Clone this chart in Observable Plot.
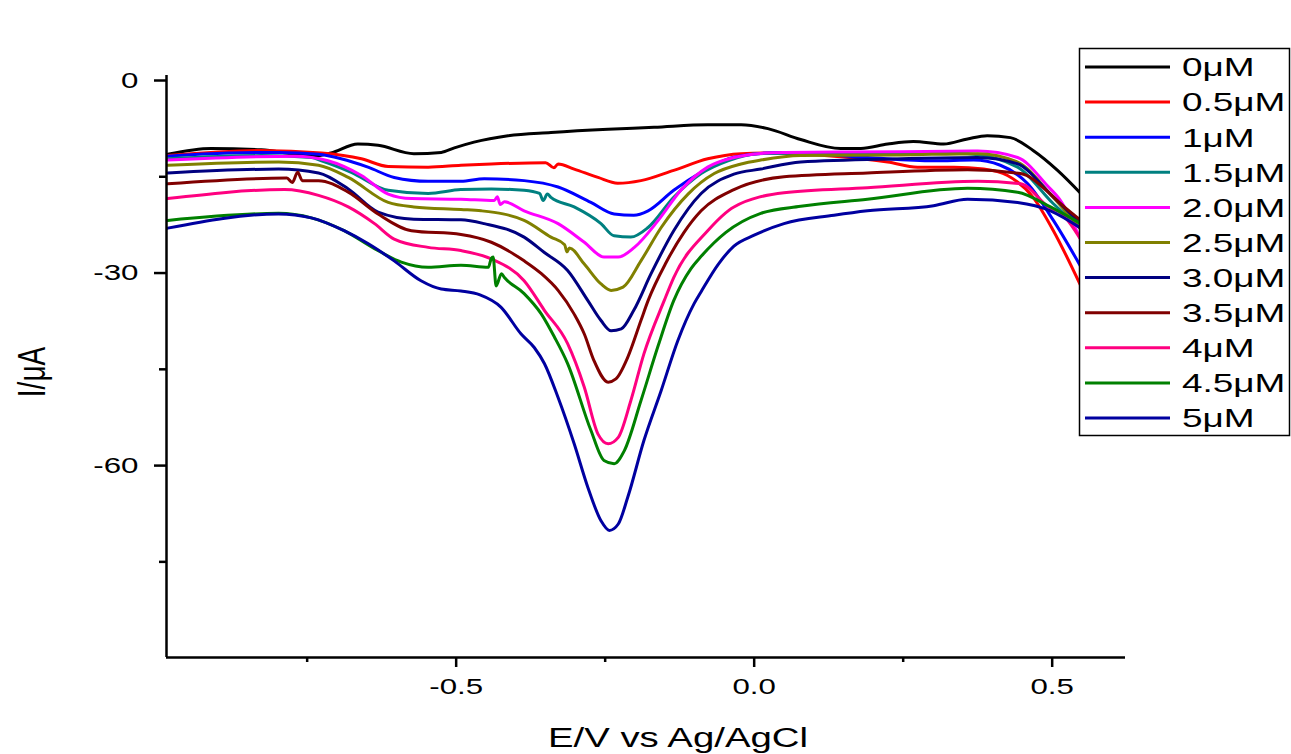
<!DOCTYPE html>
<html>
<head>
<meta charset="utf-8">
<script src="https://cdn.jsdelivr.net/npm/d3@7"></script>
<script src="https://cdn.jsdelivr.net/npm/@observablehq/plot@0.6"></script>
<style>
  body { margin: 0; background: #fff; }
  #chart { position: relative; width: 1291px; height: 754px; }
</style>
</head>
<body>
<div id="chart"></div>
<script>
// Differential pulse voltammograms: current vs potential for increasing concentration.
const labels = ["0μM", "0.5μM", "1μM", "1.5μM", "2.0μM", "2.5μM", "3.0μM", "3.5μM", "4μM", "4.5μM", "5μM"];
const colors = ["#000000", "#ff0000", "#0000ff", "#008080", "#ff00ff", "#808000", "#000080", "#800000", "#ff0080", "#008000", "#0000a0"];

// [E (V vs Ag/AgCl), I (μA)]
const c0 = [[-0.984,-11.5],[-0.911,-10.6],[-0.827,-10.8],[-0.771,-11.5],[-0.738,-11.8],[-0.710,-11.3],[-0.665,-9.9],[-0.631,-10.1],[-0.571,-11.4],[-0.525,-11.2],[-0.503,-10.5],[-0.470,-9.6],[-0.413,-8.6],[-0.341,-8.1],[-0.245,-7.6],[-0.168,-7.3],[-0.078,-6.9],[-0.022,-6.9],[0.023,-7.5],[0.078,-9.2],[0.145,-10.6],[0.179,-10.6],[0.224,-9.9],[0.267,-9.5],[0.318,-9.9],[0.358,-9.1],[0.391,-8.6],[0.430,-8.9],[0.468,-10.9],[0.509,-14.0],[0.548,-17.6]];
const c05 = [[-0.984,-11.7],[-0.827,-10.9],[-0.726,-11.3],[-0.659,-12.2],[-0.614,-13.4],[-0.547,-13.5],[-0.492,-13.2],[-0.441,-13.0],[-0.350,-12.8],[-0.336,-13.6],[-0.329,-13.0],[-0.302,-13.8],[-0.262,-15.1],[-0.229,-16.0],[-0.190,-15.6],[-0.135,-14.0],[-0.078,-12.2],[-0.022,-11.4],[0.023,-11.3],[0.134,-11.8],[0.224,-12.7],[0.274,-13.5],[0.335,-13.5],[0.385,-13.8],[0.425,-14.8],[0.468,-18.2],[0.502,-23.4],[0.548,-32.0]];
const c1 = [[-0.984,-11.8],[-0.882,-11.3],[-0.798,-11.2],[-0.731,-11.5],[-0.693,-12.2],[-0.648,-13.5],[-0.604,-15.1],[-0.547,-15.7],[-0.492,-15.7],[-0.453,-15.3],[-0.386,-15.6],[-0.329,-16.6],[-0.274,-19.0],[-0.235,-20.8],[-0.202,-21.0],[-0.178,-20.3],[-0.135,-17.1],[-0.089,-14.3],[-0.044,-12.2],[0.006,-11.4],[0.050,-11.2],[0.190,-12.0],[0.301,-12.5],[0.368,-12.4],[0.413,-13.2],[0.459,-16.1],[0.502,-21.8],[0.548,-29.0]];
const c15 = [[-0.984,-12.2],[-0.827,-11.7],[-0.743,-12.0],[-0.726,-12.5],[-0.676,-14.3],[-0.614,-17.1],[-0.547,-17.6],[-0.492,-17.0],[-0.441,-16.9],[-0.386,-17.1],[-0.360,-17.6],[-0.354,-18.7],[-0.347,-17.7],[-0.341,-18.2],[-0.302,-19.7],[-0.257,-22.3],[-0.235,-24.2],[-0.207,-24.4],[-0.178,-22.9],[-0.135,-18.2],[-0.089,-14.5],[-0.044,-12.5],[0.006,-11.4],[0.078,-11.3],[0.246,-11.2],[0.358,-11.4],[0.442,-13.5],[0.502,-19.2],[0.548,-23.0]];
const c20 = [[-0.984,-12.4],[-0.771,-11.8],[-0.715,-12.5],[-0.659,-14.8],[-0.614,-17.7],[-0.575,-18.4],[-0.492,-18.5],[-0.436,-18.7],[-0.431,-18.1],[-0.426,-19.3],[-0.419,-18.9],[-0.386,-20.3],[-0.329,-22.3],[-0.285,-25.2],[-0.252,-27.5],[-0.228,-27.5],[-0.201,-26.0],[-0.161,-21.8],[-0.123,-17.1],[-0.078,-13.5],[-0.034,-12.0],[0.006,-11.4],[0.050,-11.2],[0.246,-11.1],[0.375,-11.0],[0.442,-12.0],[0.492,-16.4],[0.514,-18.7],[0.548,-24.8]];
const c25 = [[-0.984,-13.2],[-0.798,-12.7],[-0.731,-13.2],[-0.681,-15.1],[-0.614,-19.0],[-0.571,-19.7],[-0.492,-20.1],[-0.458,-20.3],[-0.386,-21.8],[-0.341,-24.4],[-0.318,-25.6],[-0.314,-26.7],[-0.310,-26.1],[-0.285,-28.6],[-0.257,-31.7],[-0.240,-32.7],[-0.220,-32.2],[-0.190,-28.1],[-0.156,-22.9],[-0.111,-17.7],[-0.067,-14.5],[-0.022,-13.0],[0.011,-12.4],[0.078,-11.7],[0.246,-11.6],[0.375,-11.4],[0.442,-12.7],[0.497,-17.7],[0.548,-23.2]];
const c30 = [[-0.984,-14.4],[-0.798,-13.8],[-0.731,-14.4],[-0.681,-16.9],[-0.631,-20.5],[-0.571,-21.6],[-0.492,-21.7],[-0.453,-22.3],[-0.386,-24.4],[-0.352,-26.8],[-0.313,-29.6],[-0.279,-34.3],[-0.257,-37.4],[-0.240,-39.0],[-0.223,-38.7],[-0.202,-35.8],[-0.173,-30.1],[-0.135,-23.4],[-0.089,-17.6],[-0.034,-14.6],[0.011,-13.8],[0.078,-12.7],[0.246,-12.2],[0.375,-12.0],[0.442,-13.0],[0.497,-17.7],[0.548,-22.3]];
const c35 = [[-0.984,-16.1],[-0.784,-15.2],[-0.775,-15.9],[-0.766,-14.3],[-0.758,-15.6],[-0.731,-15.6],[-0.681,-17.4],[-0.631,-20.8],[-0.575,-23.4],[-0.492,-24.0],[-0.441,-25.2],[-0.386,-28.1],[-0.357,-30.1],[-0.329,-32.7],[-0.302,-36.4],[-0.285,-39.5],[-0.269,-43.6],[-0.245,-47.0],[-0.232,-46.5],[-0.212,-43.1],[-0.190,-37.4],[-0.178,-34.3],[-0.148,-28.4],[-0.118,-23.7],[-0.089,-20.3],[-0.034,-17.0],[0.050,-15.0],[0.190,-14.4],[0.358,-13.9],[0.447,-14.5],[0.497,-17.7],[0.514,-19.2],[0.548,-21.8]];
const c4 = [[-0.984,-18.4],[-0.788,-17.0],[-0.731,-17.9],[-0.681,-19.7],[-0.637,-22.3],[-0.604,-24.7],[-0.547,-26.0],[-0.492,-26.5],[-0.441,-27.8],[-0.386,-31.2],[-0.352,-35.8],[-0.313,-41.0],[-0.285,-47.8],[-0.262,-55.1],[-0.245,-56.6],[-0.228,-55.6],[-0.207,-49.9],[-0.185,-42.6],[-0.151,-34.3],[-0.135,-30.7],[-0.078,-23.4],[-0.034,-19.7],[0.050,-17.5],[0.190,-16.7],[0.375,-15.7],[0.447,-16.1],[0.497,-19.9],[0.514,-20.6],[0.548,-24.8]];
const c45 = [[-0.984,-21.8],[-0.798,-20.7],[-0.743,-21.4],[-0.688,-23.4],[-0.637,-26.2],[-0.592,-28.3],[-0.547,-29.1],[-0.492,-28.8],[-0.446,-29.1],[-0.441,-27.7],[-0.438,-27.5],[-0.433,-32.0],[-0.424,-30.1],[-0.419,-30.7],[-0.386,-33.2],[-0.357,-36.4],[-0.335,-40.0],[-0.313,-44.1],[-0.274,-54.5],[-0.252,-59.2],[-0.235,-59.7],[-0.218,-57.7],[-0.190,-49.9],[-0.161,-41.3],[-0.135,-34.3],[-0.106,-29.3],[-0.089,-27.4],[-0.048,-23.7],[0.011,-20.7],[0.078,-19.6],[0.190,-18.5],[0.358,-16.8],[0.442,-17.4],[0.497,-19.7],[0.548,-22.3]];
const c5 = [[-0.984,-23.0],[-0.798,-20.8],[-0.743,-21.4],[-0.688,-23.4],[-0.648,-25.4],[-0.604,-28.1],[-0.559,-31.2],[-0.525,-32.5],[-0.492,-32.8],[-0.460,-33.4],[-0.425,-35.3],[-0.391,-39.5],[-0.369,-41.6],[-0.352,-44.1],[-0.329,-49.4],[-0.302,-56.6],[-0.279,-63.4],[-0.257,-68.6],[-0.243,-70.1],[-0.228,-69.1],[-0.212,-64.9],[-0.185,-56.1],[-0.156,-48.3],[-0.128,-40.5],[-0.101,-34.8],[-0.089,-32.9],[-0.060,-28.6],[-0.034,-25.8],[0.000,-24.1],[0.050,-22.3],[0.134,-21.0],[0.190,-20.3],[0.301,-19.5],[0.358,-18.5],[0.442,-19.0],[0.497,-20.3],[0.548,-23.0]];

const curves = [c0, c05, c1, c15, c20, c25, c30, c35, c4, c45, c5];

// Axis settings
const xDomain = [-0.986, 0.623];
const yDomain = [-89.9, 0.78];
const xMajor = [-0.5, 0.0, 0.5];
const xMinor = [-0.75, -0.25, 0.25];
const yMajor = [0, -30, -60];
const yMinor = [-15, -45, -75];

const rows = curves.flatMap((pts, k) => pts.map(([E, I]) => ({E, I, series: labels[k]})));

const FONT = "'Liberation Sans', Arial, sans-serif";
const STRETCH = 1.42; // wide glyphs

const chart = Plot.plot({
  width: 1291,
  height: 754,
  marginLeft: 166,
  marginRight: 166,
  marginTop: 75,
  marginBottom: 97,
  style: {fontFamily: FONT, fontSize: "22px", color: "#000", background: "#fff", overflow: "visible"},
  x: {domain: xDomain, label: null},
  y: {domain: yDomain, label: null},
  color: {domain: labels, range: colors},
  marks: [
    Plot.axisX({ticks: xMajor, tickSize: 10, tickPadding: 11, strokeWidth: 2.5, tickFormat: d => d.toFixed(1), fontSize: 22, label: null}),
    Plot.axisX({ticks: xMinor, tickSize: 5, strokeWidth: 2.5, tickFormat: () => "", label: null}),
    Plot.axisY({ticks: yMajor, tickSize: 12, tickPadding: 16, strokeWidth: 2.5, tickFormat: d => String(d), fontSize: 22, label: null}),
    Plot.axisY({ticks: yMinor, tickSize: 7, strokeWidth: 2.5, tickFormat: () => "", label: null}),
    Plot.line(rows, {x: "E", y: "I", z: "series", stroke: "series", strokeWidth: 3, curve: "monotone-x"}),
    Plot.ruleY([yDomain[0]], {stroke: "#000", strokeWidth: 2.5}),
    Plot.ruleX([xDomain[0]], {stroke: "#000", strokeWidth: 2.5})
  ]
});

document.getElementById("chart").appendChild(chart);

const svg = d3.select(chart);

// Axis titles
svg.append("text")
  .attr("class", "wide")
  .attr("x", 678).attr("y", 747)
  .attr("text-anchor", "middle")
  .attr("font-family", FONT).attr("font-size", 27).attr("fill", "#000")
  .text("E/V vs Ag/AgCl");

svg.append("text")
  .attr("transform", "translate(45,372) rotate(-90) scale(1,1.4)")
  .attr("text-anchor", "middle")
  .attr("font-family", FONT).attr("font-size", 28).attr("fill", "#000")
  .text("I/μA");

// Legend box with line swatches
const lg = svg.append("g");
lg.append("rect")
  .attr("x", 1079.5).attr("y", 48.5).attr("width", 210).attr("height", 387)
  .attr("fill", "#fff").attr("stroke", "#000").attr("stroke-width", 1.5);
labels.forEach((lab, k) => {
  const y = 67 + k * 35.1;
  lg.append("line")
    .attr("x1", 1085).attr("x2", 1170).attr("y1", y).attr("y2", y)
    .attr("stroke", colors[k]).attr("stroke-width", 3);
  lg.append("text")
    .attr("class", "wide")
    .attr("x", 1182).attr("y", y).attr("dy", "0.36em")
    .attr("text-anchor", "start")
    .attr("font-family", FONT).attr("font-size", 26).attr("fill", "#000")
    .text(lab);
});

// Widen tick labels, axis title and legend labels
chart.querySelectorAll("g[aria-label$='tick label'] text, text.wide").forEach(t => {
  const len = t.getComputedTextLength();
  if (len > 0) {
    t.setAttribute("textLength", (len * STRETCH).toFixed(1));
    t.setAttribute("lengthAdjust", "spacingAndGlyphs");
  }
});
</script>
</body>
</html>
